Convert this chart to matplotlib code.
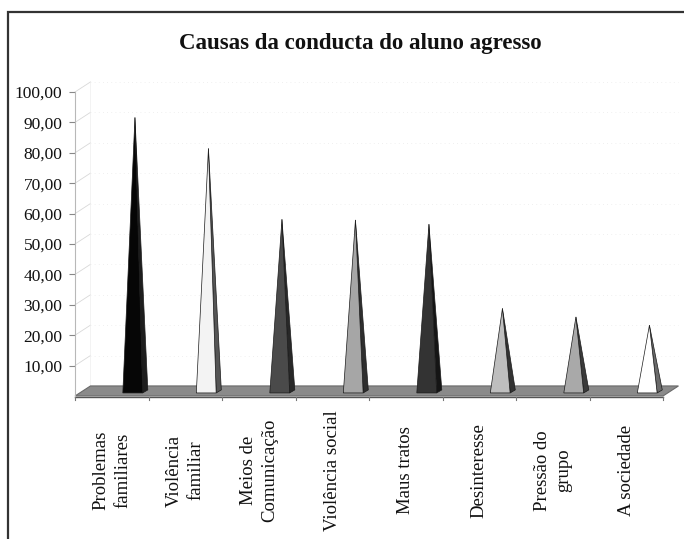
import matplotlib.pyplot as plt
from matplotlib.patches import Polygon, Rectangle

causas = ["Problemas\nfamiliares", "Violência\nfamiliar", "Meios de\nComunicação",
          "Violência social", "Maus tratos", "Desinteresse", "Pressão do\ngrupo",
          "A sociedade"]
valores = [90.0, 79.8, 56.5, 56.3, 54.9, 27.2, 24.4, 21.7]
y_ticks = [10, 20, 30, 40, 50, 60, 70, 80, 90, 100]
y_labels = ["10,00", "20,00", "30,00", "40,00", "50,00", "60,00", "70,00",
            "80,00", "90,00", "100,00"]
cor_frente = ["#060606", "#f3f3f3", "#4a4a4a", "#a6a6a6", "#333333", "#bebebe",
              "#a9a9a9", "#ffffff"]
cor_lado = ["#1e1e1e", "#555555", "#282828", "#2e2e2e", "#151515", "#333333",
            "#3a3a3a", "#6a6a6a"]

plt.rcParams['font.family'] = ['Liberation Serif', 'DejaVu Serif']

W, H = 684, 539
fig = plt.figure(figsize=(W / 100, H / 100), dpi=100)
# axes placed so that x 0..8 -> 75..663 px and y 0..100 -> 396..92 px
ax = fig.add_axes([53 / W, (H - 405.1) / H, (681.4 - 53) / W, (405.1 - 79.8) / H])
ax.set_xlim(-0.3, 8.25)
ax.set_ylim(-3, 104)
ax.patch.set_alpha(0)

n = len(causas)
dx, dy = 0.21, 3.3   # depth of the floor / walls

# back wall gridlines and left wall (very faint in the scan)
for t in y_ticks:
    ax.plot([dx, n + dx], [t + dy, t + dy], color="#ebebeb", lw=0.6,
            ls=(0, (1, 4)), zorder=1)
    ax.plot([0, dx], [t, t + dy], color="#d8d8d8", lw=0.6, zorder=1)
ax.plot([dx, dx], [dy, 100 + dy], color="#eeeeee", lw=0.5, zorder=1)

# floor
ax.add_patch(Polygon([(0, 0), (n, 0), (n + dx, dy), (dx, dy)], closed=True,
                     facecolor="#8a8a8a", edgecolor="#6a6a6a", lw=0.8, zorder=2))
ax.plot([0, n], [-0.3, -0.3], color="#555555", lw=1.0, zorder=2)
for i in range(n + 1):
    ax.plot([i, i], [-0.3, -1.4], color="#777777", lw=0.8, zorder=2)

# pyramids
hw, sd, sh = 0.135, 0.07, 1.0
for i, v in enumerate(valores):
    c = i + 0.5 + 0.285
    base = 1.0
    topo = (c + 0.03, v + 1.6)
    ax.add_patch(Polygon([(c + hw, base), (c + hw + sd, base + sh), topo],
                         closed=True, facecolor=cor_lado[i], edgecolor="#1a1a1a",
                         lw=0.5, zorder=3))
    ax.add_patch(Polygon([(c - hw, base), (c + hw, base), topo], closed=True,
                         facecolor=cor_frente[i], edgecolor="#1a1a1a", lw=0.5,
                         zorder=4))

# category labels
for i, nome in enumerate(causas):
    ax.text(i + 0.5, -24.5, nome, rotation=90, ha="center", va="center",
            multialignment="center", fontsize=13.5, color="#111111",
            linespacing=1.35, clip_on=False)

# y axis
for s in ["top", "right", "bottom"]:
    ax.spines[s].set_visible(False)
ax.spines["left"].set_position(("data", 0))
ax.spines["left"].set_bounds(0, 100)
ax.spines["left"].set_color("#b8b8b8")
ax.spines["left"].set_linewidth(0.8)
ax.set_xticks([])
ax.set_yticks(y_ticks)
ax.set_yticklabels(y_labels)
ax.tick_params(axis="y", direction="out", length=4, width=0.8, color="#888888",
               pad=5, labelsize=12.5, labelcolor="#111111")

fig.text(360 / W, 1 - 44 / H, "Causas da conducta do aluno agresso",
         ha="center", va="center", fontsize=16.5, fontweight="bold",
         color="#111111")

# outer frame (cut off on the right and bottom like the scan)
fig.patches.append(Rectangle((8 / W, -0.1), 1.2, (H - 12) / H + 0.1,
                             transform=fig.transFigure, fill=False,
                             edgecolor="#333333", lw=1.6))

fig.savefig("out.png", dpi=100)
